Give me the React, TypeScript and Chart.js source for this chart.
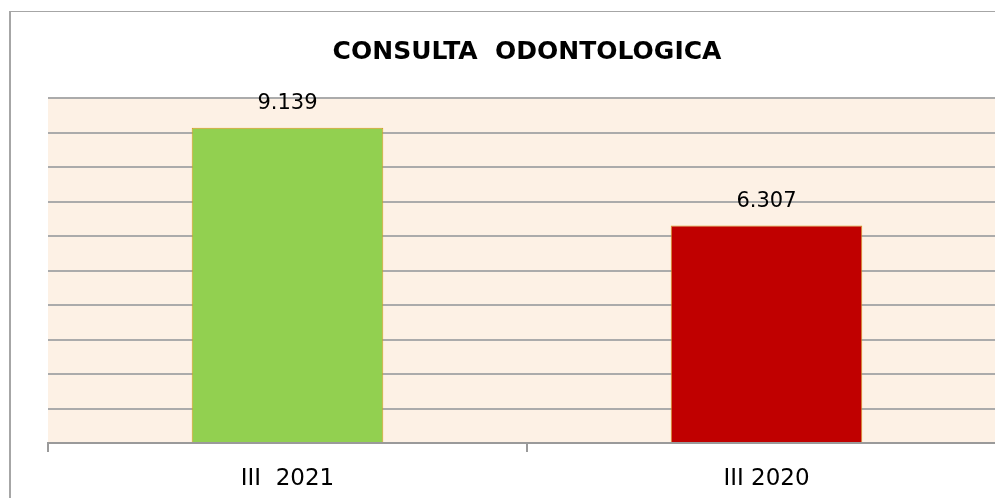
import React, { useEffect, useRef } from "react";
import { Chart, registerables } from "chart.js";

Chart.register(...registerables);

const TITLE = "CONSULTA  ODONTOLOGICA";
const categories = ["III  2021", "III 2020"];
const values = [9139, 6307];
const barColors = ["#92D050", "#C00000"];
const barBorders = ["#D9961A", "#D4A020"];
const yMax = 10000;
const yStep = 1000;

const fmt = (v: number) => String(v).replace(/\B(?=(\d{3})+(?!\d))/g, ".");

const bgPlugin = {
  id: "plotBg",
  beforeDraw(chart: any) {
    const { ctx, chartArea } = chart;
    ctx.save();
    ctx.fillStyle = "#FDF1E5";
    ctx.fillRect(chartArea.left, chartArea.top, chartArea.right - chartArea.left, chartArea.bottom - chartArea.top);
    ctx.restore();
  },
};

const labelPlugin = {
  id: "valueLabels",
  afterDatasetsDraw(chart: any) {
    const { ctx } = chart;
    const meta = chart.getDatasetMeta(0);
    ctx.save();
    ctx.font = '21px "DejaVu Sans"';
    ctx.fillStyle = "#000";
    ctx.textAlign = "center";
    ctx.textBaseline = "middle";
    meta.data.forEach((el: any, i: number) => {
      ctx.fillText(fmt(values[i]), el.x, el.y - 24);
    });
    ctx.restore();
  },
};

export default function App() {
  const ref = useRef<HTMLCanvasElement>(null);
  useEffect(() => {
    const chart = new Chart(ref.current!, {
      type: "bar",
      data: {
        labels: categories,
        datasets: [
          {
            data: values,
            backgroundColor: barColors,
            borderColor: barBorders,
            borderWidth: 1,
            categoryPercentage: 0.4,
            barPercentage: 1,
          },
        ],
      },
      options: {
        responsive: false,
        animation: false,
        layout: { padding: { left: 48, right: 54, top: 0, bottom: 0 } },
        plugins: {
          legend: { display: false },
          tooltip: { enabled: false },
          title: {
            display: true,
            text: TITLE,
            color: "#000",
            font: { family: '"DejaVu Sans"', size: 25, weight: "bold" },
            padding: { top: 37, bottom: 31 },
          },
        },
        scales: {
          x: {
            grid: { drawOnChartArea: false, drawTicks: true, tickLength: 9, color: "#9a9a9a", lineWidth: 2 },
            border: { display: true, color: "#9a9a9a", width: 2 },
            ticks: { color: "#000", font: { family: '"DejaVu Sans"', size: 23 }, padding: 13 },
            afterFit: (axis: any) => {
              axis.height = 55;
            },
          },
          y: {
            min: 0,
            max: yMax,
            ticks: { display: false, stepSize: yStep },
            grid: { color: "#ababab", lineWidth: 2, drawTicks: false },
            border: { display: false },
            afterFit: (axis: any) => {
              axis.width = 0;
            },
          },
        },
      },
      plugins: [bgPlugin, labelPlugin],
    });
    return () => chart.destroy();
  }, []);
  return (
    <div style={{ position: "fixed", left: 0, top: 0, width: 995, height: 498, overflow: "hidden", background: "#fff" }}>
      <div
        style={{
          position: "absolute",
          left: 9,
          top: 11,
          width: 1100,
          height: 600,
          borderLeft: "2px solid #a6a6a6",
          borderTop: "1px solid #a6a6a6",
        }}
      />
      <canvas
        ref={ref}
        width={1060}
        height={498}
        style={{ position: "absolute", left: 0, top: 0, width: 1060, height: 498 }}
      />
    </div>
  );
}
